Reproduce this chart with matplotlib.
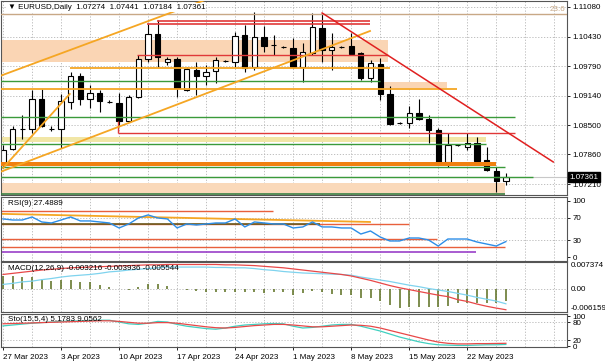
import numpy as np
import matplotlib.pyplot as plt

plt.rcParams['font.family'] = ['Liberation Sans', 'DejaVu Sans']
plt.rcParams['font.size'] = 5.8

# ---- data (daily bars incl. sunday bars) ----
date_labels = ['27 Mar 2023', '3 Apr 2023', '10 Apr 2023', '17 Apr 2023', '24 Apr 2023',
               '1 May 2023', '8 May 2023', '15 May 2023', '22 May 2023']
date_bars = [0, 6, 12, 18, 24, 30, 36, 42, 48]

opens = [1.07626, 1.07976, 1.08413, 1.08413, 1.09069, 1.08413, 1.08413, 1.09003, 1.09572, 1.09069,
         1.09200, 1.09003, 1.08981, 1.08588, 1.09113, 1.09943, 1.10490, 1.09878, 1.09943, 1.09266,
         1.09703, 1.09572, 1.09681, 1.09900, 1.09878, 1.10468, 1.09768, 1.10424, 1.10249, 1.10206,
         1.10184, 1.09768, 1.10075, 1.10621, 1.10140, 1.10206, 1.10227, 1.10075, 1.09528, 1.09834,
         1.09178, 1.08544, 1.08544, 1.08763, 1.08632, 1.08391, 1.07692, 1.08063, 1.08019, 1.08107,
         1.07735, 1.07495, 1.07274]
highs = [1.08063, 1.08478, 1.08719, 1.09266, 1.09288, 1.08478, 1.09178, 1.09659, 1.09637, 1.09375,
         1.09266, 1.09047, 1.09200, 1.09156, 1.10031, 1.10708, 1.10796, 1.09987, 1.09987, 1.09768,
         1.09878, 1.09812, 1.09987, 1.09921, 1.10533, 1.10686, 1.10971, 1.10665, 1.10468, 1.10227,
         1.10402, 1.10293, 1.10949, 1.10949, 1.10512, 1.10220, 1.10512, 1.10096, 1.09921, 1.09965,
         1.09353, 1.08566, 1.08916, 1.09069, 1.08719, 1.08435, 1.08325, 1.08075, 1.08325, 1.08238,
         1.08019, 1.07582, 1.07441]
lows = [1.07560, 1.07954, 1.08194, 1.08325, 1.08457, 1.08369, 1.07998, 1.08850, 1.08938, 1.08872,
        1.08785, 1.08981, 1.08500, 1.08566, 1.09090, 1.09878, 1.09768, 1.09812, 1.09113, 1.09244,
        1.09156, 1.09375, 1.09419, 1.09878, 1.09768, 1.09659, 1.09703, 1.10096, 1.10031, 1.10184,
        1.09746, 1.09440, 1.10031, 1.09878, 1.09703, 1.10184, 1.10031, 1.09484, 1.09440, 1.09047,
        1.08500, 1.08522, 1.08435, 1.08610, 1.08107, 1.07648, 1.07582, 1.08050, 1.07954, 1.07670,
        1.07495, 1.07036, 1.07184]
closes = [1.07954, 1.08413, 1.08420, 1.09069, 1.08478, 1.08420, 1.09025, 1.09572, 1.09069, 1.09200,
          1.09025, 1.09010, 1.08588, 1.09113, 1.09943, 1.10490, 1.09987, 1.09943, 1.09309, 1.09725,
          1.09572, 1.09659, 1.09921, 1.09905, 1.10446, 1.09746, 1.10424, 1.10227, 1.10255, 1.10210,
          1.09768, 1.10096, 1.10643, 1.10140, 1.10206, 1.10200, 1.10053, 1.09528, 1.09856, 1.09178,
          1.08522, 1.08550, 1.08763, 1.08632, 1.08391, 1.07692, 1.08063, 1.08060, 1.08107, 1.07713,
          1.07517, 1.07276, 1.07361]

price_ticks = [1.11080, 1.10430, 1.09790, 1.09140, 1.08500, 1.07860, 1.07210]

rsi = [67.9, 66.0, 66.0, 71.4, 62.5, 60.7, 66.0, 71.4, 64.3, 64.3,
       62.5, 60.7, 51.8, 58.9, 69.6, 75.0, 69.6, 67.9, 51.8, 58.9,
       57.1, 58.9, 60.7, 60.7, 67.9, 53.6, 62.5, 60.7, 58.9, 58.9,
       51.8, 53.6, 62.5, 53.6, 53.6, 51.8, 51.8, 41.0, 46.4, 35.7,
       28.6, 28.6, 33.9, 33.9, 30.4, 19.6, 32.1, 32.1, 32.1, 26.8,
       23.2, 19.6, 27.49]

macd_hist = [0.0036, 0.0036, 0.0033, 0.0033, 0.0028, 0.0022, 0.0025, 0.0025, 0.0020, 0.0020,
             0.0012, 0.0006, 0.0001, -0.0002, 0.0006, 0.0014, 0.0014, 0.0009, 0.0001, -0.0002,
             -0.0006, -0.0007, -0.0008, -0.0007, -0.0007, -0.0008, -0.0008, -0.0009, -0.0008, -0.0008,
             -0.0015, -0.0010, -0.0006, -0.0007, -0.0013, -0.0015, -0.0015, -0.0023, -0.0023, -0.0032,
             -0.0042, -0.0050, -0.0048, -0.0048, -0.0048, -0.0048, -0.0045, -0.0037, -0.0037, -0.0037,
             -0.0037, -0.0037, -0.003216]
macd_blue = [0.0013, 0.0016, 0.0020, 0.0022, 0.0026, 0.0029, 0.0033, 0.0036, 0.0038, 0.0040,
             0.0043, 0.0047, 0.0049, 0.0052, 0.0054, 0.0056, 0.0058, 0.0060, 0.0060, 0.0060,
             0.0060, 0.0060, 0.0059, 0.0059, 0.0058, 0.0058, 0.0056, 0.0053, 0.0051, 0.0048,
             0.0046, 0.0044, 0.0043, 0.0042, 0.0041, 0.0040, 0.0038, 0.0033, 0.0029, 0.0025,
             0.0021, 0.0016, 0.0011, 0.0007, 0.0002, -0.0002, -0.0006, -0.0011, -0.0016, -0.0022,
             -0.0027, -0.0032, -0.003936]
macd_red = [0.0040, 0.0043, 0.0046, 0.0049, 0.0052, 0.0054, 0.0056, 0.0058, 0.0059, 0.0060,
            0.0061, 0.0062, 0.0063, 0.0064, 0.0065, 0.0066, 0.0066, 0.0067, 0.0067, 0.0067,
            0.0067, 0.0067, 0.0067, 0.0066, 0.0066, 0.0065, 0.0064, 0.0062, 0.0060, 0.0058,
            0.0055, 0.0052, 0.0049, 0.0046, 0.0043, 0.0040, 0.0036, 0.0030, 0.0024, 0.0017,
            0.0010, 0.0004, -0.0001, -0.0006, -0.0011, -0.0016, -0.0020, -0.0028, -0.0033, -0.0040,
            -0.0046, -0.0051, -0.005544]

sto_main = [67, 70, 73, 76, 78, 80, 82, 83, 84, 85,
            86, 86, 80, 74, 72, 76, 82, 80, 72, 66,
            62, 58, 56, 60, 66, 70, 72, 74, 75, 74,
            66, 60, 62, 66, 70, 72, 72, 66, 58, 50,
            40, 30, 22, 14, 8, 4, 3, 2, 2, 3,
            4, 4, 5.18]
sto_sig = [74, 75, 76, 77, 78, 79, 80, 81, 82, 83,
           84, 84, 82, 79, 76, 76, 78, 78, 76, 72,
           68, 64, 61, 60, 62, 65, 68, 70, 72, 72,
           70, 67, 64, 64, 66, 68, 70, 69, 66, 60,
           52, 44, 36, 28, 20, 13, 9, 7, 7, 8,
           8, 8.5, 9.06]

n = len(opens)
x = np.arange(n)
grid_x = np.arange(0, 60, 3)

fig = plt.figure(figsize=(6.05, 3.63), dpi=100)
W, H = 605.0, 363.0
def panel(top, bottom):
    return fig.add_axes([1 / W, 1 - bottom / H, 566 / W, (bottom - top) / H])

ax = panel(1, 195)
ax_rsi = panel(197, 261)
ax_macd = panel(262, 312)
ax_sto = panel(314, 347)
axes = [ax, ax_rsi, ax_macd, ax_sto]

dot = (0, (1.5, 2))
for a in axes:
    a.set_xlim(-0.21, 58.32)
    a.set_xticks([])
    for s in a.spines.values():
        s.set_color('#555555')
        s.set_linewidth(0.8)
    for gx in grid_x:
        a.axvline(gx, color='#b4b4b4', lw=0.6, ls=dot, zorder=0)
    a.yaxis.tick_right()
    a.tick_params(axis='y', length=2, width=0.6, pad=2, colors='black')

# ---- main price panel ----
ax.set_ylim(1.06970, 1.11211)
ax.set_yticks(price_ticks)
ax.set_yticklabels(['%.5f' % p for p in price_ticks])
for p in price_ticks:
    ax.axhline(p, color='#b4b4b4', lw=0.6, ls=dot, zorder=0)

# zones (background rectangles)
ax.fill_between([-1, 39.8], 1.09878, 1.10359, color='#fad5b4', lw=0, zorder=1)
ax.fill_between([39.3, 45.9], 1.09309, 1.09440, color='#fad5b4', lw=0, zorder=1)
ax.fill_between([-1, 49.9], 1.08129, 1.08238, color='#f1e6a6', lw=0, zorder=1)
ax.fill_between([-1, 51.9], 1.07014, 1.07233, color='#fad9ba', lw=0, zorder=1)
ax.fill_between([-1, 51.0], 1.07604, 1.07692, color='#f08010', lw=0, zorder=3)

# candles
for i in range(n):
    o, h, l, c = opens[i], highs[i], lows[i], closes[i]
    ax.vlines(x[i], l, h, color='black', lw=0.8, zorder=2)
    fc = 'white' if c >= o else 'black'
    ax.bar(x[i], max(abs(c - o), 0.00001), bottom=min(o, c), width=0.55,
           color=fc, edgecolor='black', lw=0.8, zorder=2)

# horizontal levels
ax.axhline(1.10927, color='#c8a886', lw=1.0, zorder=3)
ax.text(58.1, 1.10945, '23.6', color='#c8a886', ha='right', va='bottom', fontsize=5.8)
ax.hlines(1.10774, 15.9, 37.9, color='#e03838', lw=1.2, zorder=3)
ax.hlines(1.10719, 14.9, 37.9, color='#e03838', lw=1.2, zorder=3)
ax.hlines(1.10031, 13.9, 39.8, color='#e03838', lw=1.0, zorder=3)
ax.hlines(1.09746, 6.9, 40.0, color='#f5a623', lw=1.3, zorder=3)
ax.hlines(1.09462, -1, 39.0, color='#3a9a3a', lw=1.0, zorder=3)
ax.hlines(1.09288, -1, 46.95, color='#f5a623', lw=1.3, zorder=3)
ax.hlines(1.08676, -1, 52.9, color='#3a9a3a', lw=1.0, zorder=3)
ax.hlines(1.08325, 11.9, 52.9, color='#e03838', lw=1.0, zorder=3)
ax.vlines(11.9, 1.08325, 1.08588, color='#e03838', lw=1.0, zorder=3)
ax.hlines(1.08085, -1, 49.9, color='#3a9a3a', lw=1.0, zorder=3)
ax.hlines(1.07582, -1, 51.9, color='#3a9a3a', lw=1.0, zorder=3)
ax.axhline(closes[-1], color='#c8c8c8', lw=0.8, zorder=2)
ax.hlines(1.07364, -1, 54.8, color='#3a9a3a', lw=1.0, zorder=3)
ax.hlines(1.06992, -1, 51.9, color='#3a7a3a', lw=1.2, zorder=3)

# trend lines
ax.plot([-0.31, 20.9], [1.09572, 1.11233], color='#f5a623', lw=1.3, zorder=3)
ax.plot([-0.31, 37.95], [1.07473, 1.10555], color='#f5a623', lw=1.3, zorder=3)
ax.plot([0.0, 6.9], [1.07560, 1.09178], color='#f5a623', lw=1.3, zorder=3)
ax.plot([33.0, 56.9], [1.10949, 1.07692], color='#e02020', lw=1.1, zorder=3)

ax.text(0.012, 0.985, '\u25bc EURUSD,Daily  1.07274  1.07441  1.07184  1.07361',
        transform=ax.transAxes, ha='left', va='top', fontsize=5.8, zorder=6,
        bbox=dict(facecolor='white', edgecolor='none', pad=0.6))
ax.text(58.55, closes[-1], '%.5f' % closes[-1], color='white', ha='left', va='center',
        fontsize=5.8, clip_on=False, zorder=6,
        bbox=dict(facecolor='black', edgecolor='black', pad=1.2))

# ---- RSI panel ----
ax_rsi.set_ylim(-7.1, 107)
ax_rsi.set_yticks([100, 70, 30, 0])
ax_rsi.set_yticklabels(['100', '70', '30', '0'])
for lv in [70, 30]:
    ax_rsi.axhline(lv, color='#b4b4b4', lw=0.6, ls=dot, zorder=0)
ax_rsi.hlines(82, -1, 27.9, color='#e8603c', lw=1.0)
ax_rsi.plot([-0.31, 37.95], [77, 62.5], color='#f5a623', lw=1.3)
ax_rsi.hlines(59, -1, 42.0, color='#e8603c', lw=1.0)
ax_rsi.hlines(59.2, -1, 32.8, color='#6b5a1e', lw=1.2)
ax_rsi.hlines(32, -1, 44.9, color='#e8603c', lw=1.0)
ax_rsi.hlines(18, -1, 51.9, color='#e8603c', lw=1.0)
ax_rsi.hlines(9, -1, 48.9, color='#9a3fc8', lw=1.2)
ax_rsi.plot(x, rsi, color='#2d8ee8', lw=1.0, zorder=4)
ax_rsi.text(0.012, 0.95, 'RSI(9) 27.4889', transform=ax_rsi.transAxes, ha='left', va='top')

# ---- MACD panel ----
ax_macd.set_ylim(-0.006159, 0.007374)
ax_macd.set_yticks([])
ax_macd.axhline(0, color='#b4b4b4', lw=0.6, ls=dot, zorder=0)
ax_macd.vlines(x, 0, macd_hist, color='#5a6e1e', lw=1.1, zorder=2)
ax_macd.plot(x, macd_blue, color='#7fd3ee', lw=0.9, zorder=3)
ax_macd.plot(x, macd_red, color='#e84848', lw=0.9, zorder=3)
ax_macd.text(0.012, 0.95, 'MACD(12,26,9) -0.003216 -0.003936 -0.005544',
             transform=ax_macd.transAxes, ha='left', va='top', zorder=5)
tr = ax_macd.get_yaxis_transform()
ax_macd.text(1.006, 0.007374, '0.007374', transform=tr, ha='left', va='top')
ax_macd.text(1.006, 0.0, '0.00', transform=tr, ha='left', va='center')
ax_macd.text(1.006, -0.006159, '-0.006159', transform=tr, ha='left', va='bottom')

# ---- Stochastic panel ----
ax_sto.set_ylim(-3.3, 106.7)
ax_sto.set_yticks([100, 80, 20, 0])
ax_sto.set_yticklabels(['100', '80', '20', '0'])
for lv in [80, 20]:
    ax_sto.axhline(lv, color='#b4b4b4', lw=0.6, ls=dot, zorder=0)
ax_sto.plot(x, sto_main, color='#40d0c0', lw=0.9)
ax_sto.plot(x, sto_sig, color='#e84848', lw=0.9)
ax_sto.text(0.012, 0.93, 'Sto(15,5,4) 5.1783 9.0562', transform=ax_sto.transAxes,
            ha='left', va='top', zorder=5)
ax_sto.set_xticks(date_bars)
ax_sto.set_xticklabels(date_labels)
ax_sto.tick_params(axis='x', length=2, width=0.6, pad=3)
for t in ax_sto.get_xticklabels():
    t.set_ha('left')

fig.savefig('out.png', dpi=100)
